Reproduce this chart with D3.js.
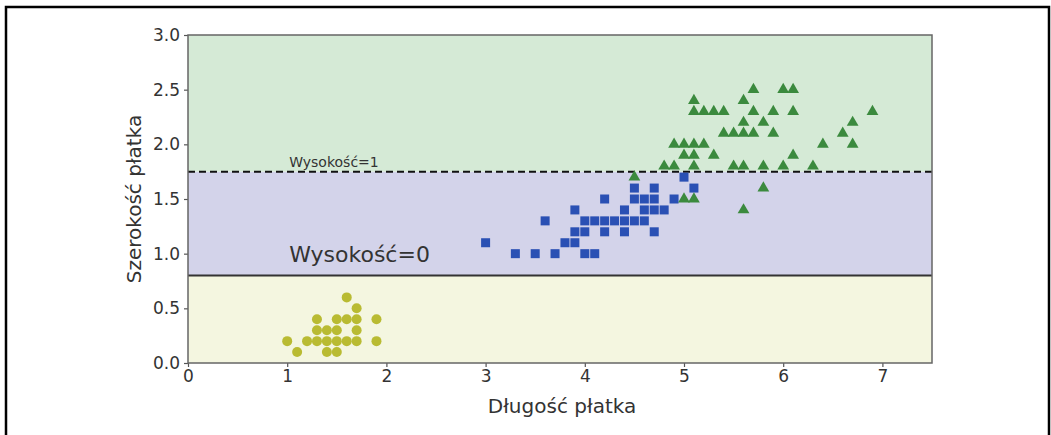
<!DOCTYPE html>
<html>
<head>
<meta charset="utf-8">
<script src="https://cdn.jsdelivr.net/npm/d3@7"></script>
<style>
  body { margin: 0; background: #fff; }
  svg text { font-family: "DejaVu Sans", sans-serif; fill: #333; }
</style>
</head>
<body>
<div id="chart"></div>
<script>
// iris petal data
var setosa = [
  [1.0,0.2],[1.1,0.1],[1.2,0.2],[1.3,0.2],[1.3,0.3],[1.3,0.4],[1.4,0.1],[1.4,0.2],
  [1.4,0.3],[1.5,0.1],[1.5,0.2],[1.5,0.3],[1.5,0.4],[1.6,0.2],[1.6,0.4],[1.6,0.6],
  [1.7,0.2],[1.7,0.3],[1.7,0.4],[1.7,0.5],[1.9,0.2],[1.9,0.4]
];
var versicolor = [
  [3.0,1.1],[3.3,1.0],[3.5,1.0],[3.7,1.0],[4.0,1.0],[4.1,1.0],[3.8,1.1],[3.9,1.1],
  [3.9,1.2],[4.0,1.2],[4.2,1.2],[4.4,1.2],[4.7,1.2],[3.6,1.3],[4.0,1.3],[4.1,1.3],
  [4.2,1.3],[4.3,1.3],[4.4,1.3],[4.5,1.3],[4.6,1.3],[3.9,1.4],[4.4,1.4],[4.6,1.4],
  [4.7,1.4],[4.8,1.4],[4.2,1.5],[4.5,1.5],[4.6,1.5],[4.7,1.5],[4.9,1.5],[4.5,1.6],
  [4.7,1.6],[5.1,1.6],[5.0,1.7]
];
var virginica = [
  [5.7,2.5],[6.0,2.5],[6.1,2.5],[5.1,2.4],[5.6,2.4],
  [5.1,2.3],[5.2,2.3],[5.3,2.3],[5.4,2.3],[5.7,2.3],[5.9,2.3],[6.1,2.3],[6.9,2.3],
  [5.6,2.2],[5.8,2.2],[6.7,2.2],
  [5.4,2.1],[5.5,2.1],[5.6,2.1],[5.7,2.1],[5.9,2.1],[6.6,2.1],
  [4.9,2.0],[5.0,2.0],[5.1,2.0],[5.2,2.0],[6.4,2.0],[6.7,2.0],
  [5.0,1.9],[5.1,1.9],[5.3,1.9],[6.1,1.9],
  [4.8,1.8],[4.9,1.8],[5.1,1.8],[5.5,1.8],[5.6,1.8],[5.8,1.8],[6.0,1.8],[6.3,1.8],
  [4.5,1.7],[5.8,1.6],[5.0,1.5],[5.1,1.5],[5.6,1.4]
];
var xTicks = [0, 1, 2, 3, 4, 5, 6, 7];
var yTicks = [0.0, 0.5, 1.0, 1.5, 2.0, 2.5, 3.0];
var splitDepth0 = 0.8;
var splitDepth1 = 1.75;
var regions = [
  {y0: 0, y1: 0.8, color: "#f4f6e0"},
  {y0: 0.8, y1: 1.75, color: "#d3d3ea"},
  {y0: 1.75, y1: 3.0, color: "#d5ead6"}
];

var W = 1051, H = 435;
var margin = {top: 35, right: 119, bottom: 72, left: 188};
var width = W - margin.left - margin.right,
    height = H - margin.top - margin.bottom;

var root = d3.select("#chart").append("svg")
  .attr("width", W).attr("height", H);

// outer frame (open at the bottom)
root.append("path")
  .attr("d", "M6,435 V7 H1049 V435")
  .attr("fill", "none").attr("stroke", "#000").attr("stroke-width", 2.5);

var svg = root.append("g")
  .attr("transform", "translate(" + margin.left + "," + margin.top + ")");

var x = d3.scaleLinear().domain([0, 7.5]).range([0, width]);
var y = d3.scaleLinear().domain([0, 3]).range([height, 0]);

svg.selectAll("rect.region")
  .data(regions)
  .enter().append("rect")
  .attr("class", "region")
  .attr("x", 0)
  .attr("width", width)
  .attr("y", function(d) { return y(d.y1); })
  .attr("height", function(d) { return y(d.y0) - y(d.y1); })
  .attr("fill", function(d) { return d.color; });

// decision boundaries
svg.append("line")
  .attr("x1", x(0)).attr("x2", x(7.5))
  .attr("y1", y(splitDepth0)).attr("y2", y(splitDepth0))
  .attr("stroke", "#333").attr("stroke-width", 2);
svg.append("line")
  .attr("x1", x(0)).attr("x2", x(7.5))
  .attr("y1", y(splitDepth1)).attr("y2", y(splitDepth1))
  .attr("stroke", "#111").attr("stroke-width", 2)
  .attr("stroke-dasharray", "7,4");

svg.append("text")
  .attr("x", x(1.02)).attr("y", y(0.92))
  .style("font-size", "22px")
  .text("Wysokość=0");
svg.append("text")
  .attr("x", x(1.02)).attr("y", y(1.79))
  .style("font-size", "14px")
  .text("Wysokość=1");

// points
svg.selectAll("circle.setosa")
  .data(setosa)
  .enter().append("circle")
  .attr("class", "setosa")
  .attr("cx", function(d) { return x(d[0]); })
  .attr("cy", function(d) { return y(d[1]); })
  .attr("r", 5)
  .attr("fill", "#b9bb32");

var sq = 9;
svg.selectAll("rect.versicolor")
  .data(versicolor)
  .enter().append("rect")
  .attr("class", "versicolor")
  .attr("x", function(d) { return x(d[0]) - sq / 2; })
  .attr("y", function(d) { return y(d[1]) - sq / 2; })
  .attr("width", sq).attr("height", sq)
  .attr("fill", "#2a50b4");

var tri = d3.symbol().type(d3.symbolTriangle).size(60);
svg.selectAll("path.virginica")
  .data(virginica)
  .enter().append("path")
  .attr("class", "virginica")
  .attr("transform", function(d) { return "translate(" + x(d[0]) + "," + y(d[1]) + ")"; })
  .attr("d", tri)
  .attr("fill", "#3b8a3e");

// axes
var xAxis = svg.append("g")
  .attr("transform", "translate(0," + height + ")")
  .call(d3.axisBottom(x).tickValues(xTicks).tickSize(4).tickPadding(3).tickFormat(d3.format("d")));
var yAxis = svg.append("g")
  .call(d3.axisLeft(y).tickValues(yTicks).tickSize(4).tickPadding(4).tickFormat(d3.format(".1f")));
[xAxis, yAxis].forEach(function(a) {
  a.select(".domain").remove();
  a.selectAll("line").attr("stroke", "#555").attr("stroke-width", 1.2);
  a.selectAll("text").style("font-size", "17px").attr("fill", "#333");
});

// spines
svg.append("rect")
  .attr("width", width).attr("height", height)
  .attr("fill", "none").attr("stroke", "#666").attr("stroke-width", 1.5);

svg.append("text")
  .attr("x", width / 2 + 2).attr("y", height + 50)
  .attr("text-anchor", "middle")
  .style("font-size", "20px")
  .text("Długość płatka");

svg.append("text")
  .attr("transform", "translate(-47," + (height / 2) + ") rotate(-90)")
  .attr("text-anchor", "middle")
  .style("font-size", "20px")
  .text("Szerokość płatka");
</script>
</body>
</html>
